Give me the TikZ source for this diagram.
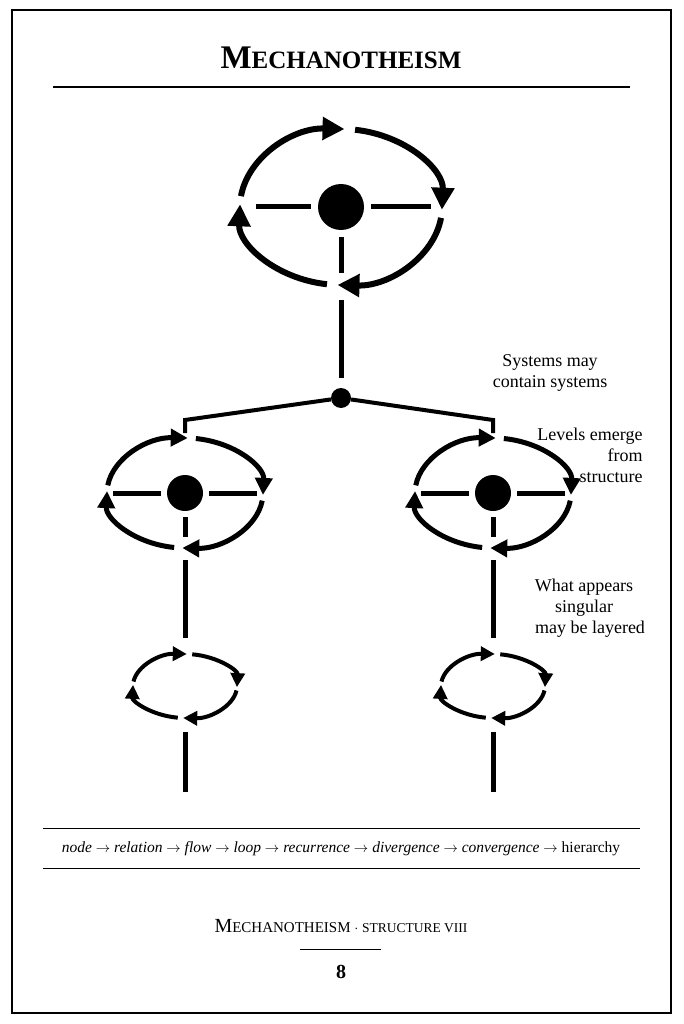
\documentclass[tikz,border=0pt]{standalone}
\usepackage{fontspec}
\setmainfont{Liberation Serif}
\usepackage{tikz}
\usetikzlibrary{positioning,arrows.meta,calc}
\tikzstyle{hub}=[%
      circle, fill=black, draw=none, inner sep=0pt
]
\tikzstyle{ln}=[%
      draw=black, line width=5pt
]
\tikzstyle{lbl}=[%
      align=center, font=\fontsize{18}{21}\selectfont
]
% one ring of four arrowed arcs: centre, x radius, y radius, width, tip size
\newcommand{\ring}[5]{%
  \foreach \a in {180,270,360,450}
    \draw[line width=#4, -{Triangle[length=#5,width=#5]}]
      ($(#1)+({\a+8}:#2 and #3)$) arc[start angle=\a+8, end angle=\a+92, x radius=#2, y radius=#3];
}
\begin{document}
\begin{tikzpicture}[x=1pt,y=-1pt]
    \useasboundingbox (0,0) rectangle (683,1024);
    \draw[line width=1.5pt] (12,10) rectangle (671,1013);

    \node (title) at (341,58) {\bfseries\fontsize{33}{35}\selectfont M\fontsize{25}{28}\selectfont ECHANOTHEISM};
    \draw[line width=1.2pt] (53,87) -- (630,87);

    % top system
    \coordinate (top) at (341,207);
    \ring{top}{101}{78}{6pt}{22pt}
    \node[hub, minimum size=46pt] (topHub) at (top) {};
    \draw[ln] ($(topHub.west)+(-7,0)$) -- ++(-55,0);
    \draw[ln] ($(topHub.east)+(7,0)$) -- ++(60,0);
    \draw[ln] ($(topHub.south)+(0,7)$) -- ++(0,36);

    % branch point
    \node[hub, minimum size=20pt] (split) at (341,398) {};
    \coordinate (stem) at (341,300);
    \draw[ln] (stem) -- ($(split.north)+(0,-10)$);
    \coordinate (lKnee) at (185,420);
    \coordinate (rKnee) at (493,420);
    \draw[ln, line width=4pt] (split) -- (lKnee) -- ++(0,13);
    \draw[ln, line width=4pt] (split) -- (rKnee) -- ++(0,13);

    % two lower systems
    \foreach \n/\x in {left/185, right/493}{
      \coordinate (\n Mid) at (\x,493);
      \ring{\n Mid}{78}{55}{5pt}{17pt}
      \node[hub, minimum size=36pt] (\n Hub) at (\n Mid) {};
      \draw[ln] ($(\n Hub.west)+(-6,0)$) -- ++(-48,0);
      \draw[ln] ($(\n Hub.east)+(6,0)$) -- ++(48,0);
      \draw[ln] ($(\n Hub.south)+(0,6)$) -- ++(0,20);
      \coordinate (\n Top) at (\x,560);
      \coordinate (\n Bot) at (\x,638);
      \draw[ln] (\n Top) -- (\n Bot);
      \coordinate (\n Small) at (\x,686);
      \ring{\n Small}{52}{32}{4pt}{14pt}
      \coordinate (\n End) at (\x,732);
      \draw[ln] (\n End) -- ++(0,60);
    }

    \node[lbl] (sys) at (550,373) {Systems may\\contain systems};
    \node[lbl, align=right] (lev) at (590,455) {Levels emerge\\from\hspace*{12pt}\\structure};
    \node[lbl] (sing) at (584,608) {What appears\\singular\\\hspace*{12pt}may be layered};

    \draw[line width=0.8pt] (43,828) -- (640,828);
    \draw[line width=0.8pt] (43,868) -- (640,868);
    \node (chain) at (341,849) {\fontsize{15.5}{17}\selectfont\itshape node $\to$ relation $\to$ flow $\to$ loop $\to$ recurrence $\to$ divergence $\to$ convergence $\to$ \upshape hierarchy};

    \node (foot) at (341,926) {\fontsize{20}{22}\selectfont M\fontsize{15}{18}\selectfont ECHANOTHEISM $\cdot$ \fontsize{13.5}{16}\selectfont STRUCTURE VIII};
    \draw[line width=0.6pt] (300,949) -- (381,949);
    \node (page) at (341,972) {\bfseries\fontsize{20}{22}\selectfont 8};
\end{tikzpicture}
\end{document}
